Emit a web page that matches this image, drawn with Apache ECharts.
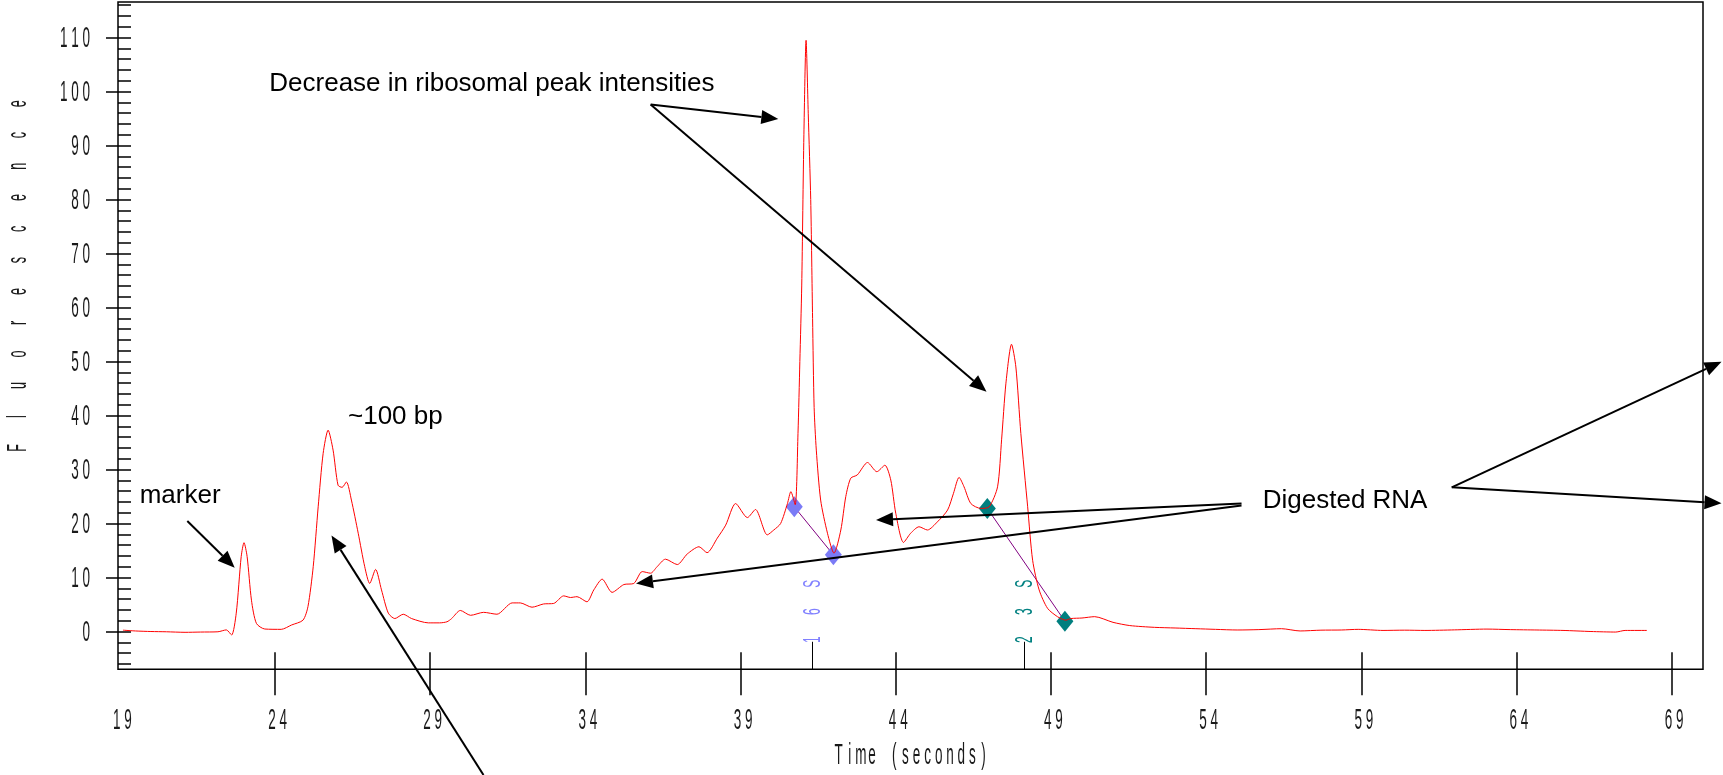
<!DOCTYPE html>
<html>
<head>
<meta charset="utf-8">
<script src="https://cdn.jsdelivr.net/npm/echarts@6/dist/echarts.min.js"></script>
<style>
  html, body { margin: 0; padding: 0; background: #fff; }
  #electroferograma { width: 1723px; height: 775px; }
</style>
</head>
<body>
<div id="electroferograma"></div>
<script>
var tiempo = [
    19.10, 19.50, 20.00, 20.50, 21.10, 21.60, 22.16, 22.43, 22.60, 22.75,
    22.91, 23.00, 23.10, 23.24, 23.40, 23.67, 24.20, 24.53, 24.90, 25.06,
    25.23, 25.39, 25.55, 25.71, 25.87, 26.03, 26.16, 26.30, 26.46, 26.68,
    26.89, 27.05, 27.24, 27.43, 27.65, 27.86, 28.13, 28.40, 28.94, 29.30,
    29.54, 29.69, 29.97, 30.30, 30.72, 31.15, 31.64, 31.90, 32.28, 32.65,
    32.98, 33.30, 33.52, 33.73, 34.05, 34.27, 34.54, 34.86, 35.24, 35.56,
    35.83, 36.10, 36.31, 36.58, 36.96, 37.28, 37.66, 37.92, 38.25, 38.52,
    38.84, 39.22, 39.48, 39.86, 40.07, 40.29, 40.51, 40.62, 40.76, 40.85,
    40.91, 40.97, 41.04, 41.11, 41.18, 41.26, 41.32, 41.37, 41.44, 41.58,
    41.80, 42.01, 42.23, 42.39, 42.55, 42.76, 43.09, 43.39, 43.65, 43.84,
    44.00, 44.25, 44.48, 44.75, 45.02, 45.34, 45.67, 45.86, 46.04, 46.20,
    46.42, 46.74, 47.01, 47.28, 47.41, 47.55, 47.73, 47.87, 48.03, 48.25,
    48.41, 48.62, 48.89, 49.21, 49.48, 49.64, 50.00, 50.41, 51.00, 51.54,
    52.34, 53.00, 53.67, 54.30, 55.00, 55.70, 56.43, 57.03, 57.70, 58.37,
    58.90, 59.70, 60.40, 61.05, 62.00, 63.05, 63.80, 64.66, 65.50, 66.40,
    67.20, 67.50, 68.20
];
var fluorescencia = [
    0.25, 0.10, 0.00, -0.05, -0.15, -0.10, -0.05, 0.30, -0.65, 3.4,
    13.9, 16.45, 13.9, 5.8, 1.5, 0.46, 0.4, 1.2, 2.1, 4.6,
    12.0, 23.1, 33.0, 37.3, 33.6, 27.1, 26.7, 27.7, 24.35, 18.2,
    12.0, 8.9, 11.5, 7.7, 3.4, 2.4, 3.2, 2.4, 1.6, 1.6,
    1.8, 2.4, 3.9, 3.0, 3.55, 3.2, 5.3, 5.3, 4.5, 5.1,
    5.2, 6.6, 6.3, 6.45, 5.5, 7.7, 9.7, 7.25, 8.7, 8.9,
    11.1, 10.8, 12.0, 13.4, 12.4, 14.35, 15.7, 14.6, 17.3, 19.7,
    23.7, 21.1, 22.6, 17.9, 18.8, 20.0, 23.7, 25.9, 23.5, 36.7,
    50.0, 64.0, 92.0, 109.5, 96.0, 80.0, 58.0, 41.5, 33.6, 24.35,
    18.2, 14.5, 18.8, 25.0, 28.4, 29.0, 31.3, 29.6, 30.8, 28.05,
    21.9, 16.5, 18.2, 19.4, 18.8, 20.3, 22.5, 25.6, 28.55, 26.8,
    23.7, 22.8, 23.1, 26.8, 35.5, 46.0, 53.2, 49.0, 36.7, 23.1,
    13.2, 7.7, 4.3, 2.75, 2.1, 2.4, 2.5, 2.75, 1.7, 1.1,
    0.77, 0.65, 0.52, 0.4, 0.28, 0.35, 0.52, 0.1, 0.25, 0.28,
    0.4, 0.2, 0.25, 0.2, 0.3, 0.45, 0.35, 0.28, 0.2, 0.0,
    -0.1, 0.2, 0.2
];

// Limites de los picos ribosomales
var pico16S = [[40.73, 23.1], [41.99, 14.2]];
var pico23S = [[46.95, 22.8], [49.45, 1.9]];
var marca16S = 41.32;
var marca23S = 48.15;

// Ejes
var xTicks = [19, 24, 29, 34, 39, 44, 49, 54, 59, 64, 69];
var xTicksMarcas = [24, 29, 34, 39, 44, 49, 54, 59, 64, 69];
var yTicks = [0, 10, 20, 30, 40, 50, 60, 70, 80, 90, 100, 110];
var yMenores = [-6, -4, -2, 0, 2, 4, 6, 8, 10, 12, 14, 16, 18, 20, 22, 24, 26, 28, 30,
    32, 34, 36, 38, 40, 42, 44, 46, 48, 50, 52, 54, 56, 58, 60, 62, 64, 66, 68, 70,
    72, 74, 76, 78, 80, 82, 84, 86, 88, 90, 92, 94, 96, 98, 100, 102, 104, 106, 108,
    110, 112, 114, 116];

// Anotaciones (en coordenadas de los datos)
var textos = [
    { t: 'Decrease in ribosomal peak intensities', p: [23.815, 101.4] },
    { t: 'Digested RNA', p: [55.824, 24.26] },
    { t: 'marker', p: [19.639, 25.15] },
    { t: '~100 bp', p: [26.351, 39.73] }
];
var flechas = [
    [[36.101, 97.63], [40.216, 94.93]],
    [[36.101, 97.63], [46.924, 44.42]],
    [[21.173, 20.47], [22.700, 11.82]],
    [[30.717, -26.58], [25.819, 17.78]],
    [[55.141, 23.71], [43.364, 20.66]],
    [[55.141, 23.34], [35.631, 8.89]],
    [[61.914, 26.71], [70.607, 49.97]],
    [[61.914, 26.71], [70.607, 23.75]]
];

var datos = tiempo.map(function (t, i) { return [t, fluorescencia[i]]; });

var dom = document.getElementById('electroferograma');
var myChart = echarts.init(dom, null, { renderer: 'canvas' });

var tickStyle = { color: '#000', width: 1.5 };
var rejilla = { left: 118, top: 2, width: 1585, height: 667.3 };

var option = {
    animation: false,
    grid: [
        Object.assign({ show: true, borderColor: '#000', borderWidth: 1.5, outerBoundsMode: 'none' }, rejilla),
        Object.assign({ show: false, outerBoundsMode: 'none' }, rejilla)
    ],
    xAxis: [
        {
            type: 'value', gridIndex: 0, min: 18.94, max: 70.01, position: 'bottom',
            axisLine: { show: false, onZero: false },
            axisTick: { show: true, inside: true, length: 17, customValues: xTicksMarcas, lineStyle: tickStyle },
            axisLabel: { show: false },
            splitLine: { show: false }
        },
        {
            type: 'value', gridIndex: 1, min: 18.94, max: 70.01, position: 'bottom',
            axisLine: { show: false, onZero: false },
            axisTick: { show: true, inside: false, length: 26, customValues: xTicksMarcas, lineStyle: tickStyle },
            axisLabel: { show: false },
            splitLine: { show: false }
        }
    ],
    yAxis: [
        {
            type: 'value', gridIndex: 0, min: -7, max: 116.6, position: 'left',
            axisLine: { show: false, onZero: false },
            axisTick: { show: true, inside: true, length: 13, customValues: yMenores, lineStyle: tickStyle },
            axisLabel: { show: false },
            splitLine: { show: false }
        },
        {
            type: 'value', gridIndex: 1, min: -7, max: 116.6, position: 'left',
            axisLine: { show: false, onZero: false },
            axisTick: { show: true, inside: false, length: 12, customValues: yTicks, lineStyle: tickStyle },
            axisLabel: { show: false },
            splitLine: { show: false }
        }
    ],
    series: [
        {
            name: '16S',
            type: 'line',
            data: pico16S,
            symbol: 'diamond',
            symbolSize: [17, 21],
            itemStyle: { color: '#7b7bf6' },
            lineStyle: { color: '#800080', width: 1 },
            emphasis: { disabled: true },
            z: 2,
            markLine: {
                silent: true,
                symbol: 'none',
                label: { show: false },
                lineStyle: { color: '#000', width: 1, type: 'solid' },
                data: [[{ coord: [marca16S, -7] }, { coord: [marca16S, -1.9] }]]
            }
        },
        {
            name: '23S',
            type: 'line',
            data: pico23S,
            symbol: 'diamond',
            symbolSize: [17, 21],
            itemStyle: { color: '#007f7f' },
            lineStyle: { color: '#800080', width: 1 },
            emphasis: { disabled: true },
            z: 2,
            markLine: {
                silent: true,
                symbol: 'none',
                label: { show: false },
                lineStyle: { color: '#000', width: 1, type: 'solid' },
                data: [[{ coord: [marca23S, -7] }, { coord: [marca23S, -1.9] }]]
            }
        },
        {
            name: 'Fluorescence',
            type: 'line',
            data: datos,
            showSymbol: false,
            smooth: 0.25,
            lineStyle: { color: '#ff0000', width: 1 },
            emphasis: { disabled: true },
            z: 3
        }
    ]
};

myChart.setOption(option);

// texto estrecho (la fuente original es muy condensada)
function estrecho(txt, x, y, o) {
    o = o || {};
    var al = o.align || 'center';
    return {
        type: 'text', x: x, y: y, z: 50, silent: true,
        rotation: o.rot || 0,
        scaleX: o.sx || 0.45,
        style: {
            text: txt,
            font: (o.size || 30) + 'px "Liberation Sans"',
            fill: o.color || '#1a1a1a',
            align: al, textAlign: al,
            verticalAlign: 'middle', textVerticalAlign: 'middle'
        }
    };
}

function px(p) {
    return myChart.convertToPixel({ xAxisIndex: 0, yAxisIndex: 0 }, p);
}

var elementos = [];

// etiquetas de los ejes
xTicks.forEach(function (v) {
    var p = px([v, 0]);
    elementos.push(estrecho(String(v).split('').join(' '), p[0] + 2.5, 721));
});
yTicks.forEach(function (v) {
    var p = px([19, v]);
    elementos.push(estrecho(String(v).split('').join(' '), 90, p[1] + 1, { align: 'right' }));
});

// titulo del eje Y, letra por letra
'Fluorescence'.split('').forEach(function (c, i) {
    elementos.push(estrecho(c, 18, 448 - i * 31.3, { rot: Math.PI / 2, size: 28 }));
});
// titulo del eje X
var tituloX = 'Time (seconds)';
tituloX.split('').forEach(function (c, i) {
    elementos.push(estrecho(c, 911 + (i - (tituloX.length - 1) / 2) * 11.15, 756));
});

// etiquetas 16S / 23S
[[marca16S, '16S', '#8080ff'], [marca23S, '23S', '#008080']].forEach(function (m) {
    var p = px([m[0], -1.9]);
    m[1].split('').forEach(function (c, i) {
        elementos.push(estrecho(c, p[0] + 1, p[1] - 2 - i * 28, { rot: Math.PI / 2, size: 24, sx: 0.5, color: m[2] }));
    });
});

// anotaciones
textos.forEach(function (a) {
    var p = px(a.p);
    elementos.push({
        type: 'text', x: p[0], y: p[1], z: 60, silent: true,
        style: {
            text: a.t, font: '26px "Liberation Sans"', fill: '#000',
            align: 'left', textAlign: 'left', verticalAlign: 'middle', textVerticalAlign: 'middle'
        }
    });
});

flechas.forEach(function (f) {
    var a = px(f[0]);
    var b = px(f[1]);
    var ang = Math.atan2(b[1] - a[1], b[0] - a[0]);
    var L = 17, W = 7;
    var bx = b[0] - L * Math.cos(ang), by = b[1] - L * Math.sin(ang);
    elementos.push({
        type: 'line', z: 60, silent: true,
        shape: { x1: a[0], y1: a[1], x2: bx, y2: by },
        style: { stroke: '#000', lineWidth: 2 }
    });
    elementos.push({
        type: 'polygon', z: 60, silent: true,
        shape: { points: [[b[0], b[1]], [bx - W * Math.sin(ang), by + W * Math.cos(ang)], [bx + W * Math.sin(ang), by - W * Math.cos(ang)]] },
        style: { fill: '#000' }
    });
});

myChart.setOption({ graphic: elementos });

window.addEventListener('resize', myChart.resize);
</script>
</body>
</html>
